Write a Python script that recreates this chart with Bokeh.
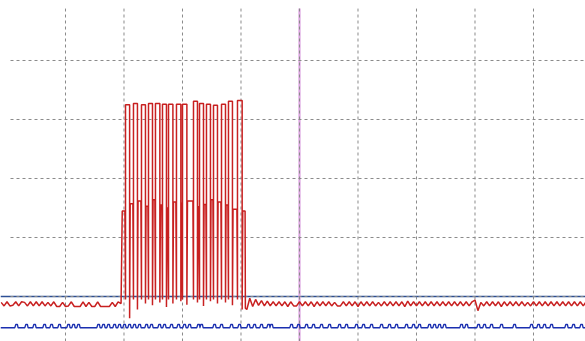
from bokeh.plotting import figure
from bokeh.embed import file_html
from bokeh.resources import INLINE

# ---------------- data (time in µs, 10 µs/div; level in V, 1 V/div) ----------------
view_t = [-1.11, 98.89]
view_v = [-0.763, 5.017]

grid_t = [10, 20, 30, 40, 50, 60, 70, 80, 90]
grid_v = [0, 1, 2, 3, 4]
grid_t_start = 0.6
grid_v_top = 4.88

cursor_t = 50
trigger_v = 0.0

# red channel: baseline samples before the burst
red_dt = 0.5
red_pre_t0 = -1.0
red_pre = [-0.10, -0.16, -0.09, -0.16, -0.15, -0.09, -0.16, -0.09, -0.10, -0.16,
           -0.09, -0.16, -0.09, -0.16, -0.09, -0.16, -0.10, -0.16, -0.09, -0.17,
           -0.17, -0.10, -0.17, -0.16, -0.09, -0.17, -0.17, -0.17, -0.09, -0.17,
           -0.10, -0.17, -0.17, -0.09, -0.17, -0.17, -0.17, -0.17, -0.10, -0.17,
           -0.09, -0.12]

# red channel: the burst
burst_begin = 19.6
burst_end = 40.7
burst_low = -0.05
pulse_t = [20.26, 21.62, 22.99, 24.19, 25.38, 26.58, 27.61, 28.97, 30.00, 31.88,
           32.91, 34.10, 35.30, 36.67, 37.86, 39.40]
pulse_w = [0.70, 0.68, 0.68, 0.68, 0.75, 0.68, 0.75, 0.75, 0.75, 0.68,
           0.68, 0.68, 0.68, 0.68, 0.68, 0.80]
pulse_top = [3.25, 3.27, 3.25, 3.27, 3.27, 3.26, 3.26, 3.26, 3.26, 3.31,
             3.27, 3.26, 3.24, 3.26, 3.31, 3.32]
pulse_dip = [-0.37, -0.22, -0.12, -0.15, -0.10, -0.18, -0.12, -0.08, -0.14, -0.10,
             -0.16, -0.08, -0.12, -0.10, -0.15, -0.22]
gap_mid = [1.45, 1.57, 1.62, 1.53, 1.64, 1.55, 1.50, 1.60, 1.58, 1.62,
           1.52, 1.56, 1.64, 1.60, 1.55, 1.48, 1.45]

# red channel: samples after the burst
red_post_t0 = 41.0
red_post = [-0.22, -0.03, -0.17, -0.05, -0.15, -0.07, -0.16, -0.08, -0.16, -0.09,
            -0.16, -0.09, -0.16, -0.09, -0.17, -0.09, -0.16, -0.16, -0.09, -0.16,
            -0.09, -0.16, -0.09, -0.17, -0.09, -0.16, -0.09, -0.16, -0.09, -0.16,
            -0.10, -0.16, -0.16, -0.09, -0.16, -0.09, -0.16, -0.09, -0.17, -0.09,
            -0.16, -0.09, -0.16, -0.09, -0.16, -0.10, -0.16, -0.09, -0.16, -0.09,
            -0.16, -0.09, -0.16, -0.09, -0.17, -0.08, -0.16, -0.09, -0.16, -0.09,
            -0.16, -0.09, -0.16, -0.09, -0.16, -0.09, -0.16, -0.09, -0.16, -0.09,
            -0.16, -0.09, -0.16, -0.09, -0.16, -0.09, -0.16, -0.09, -0.06, -0.24,
            -0.10, -0.16, -0.09, -0.16, -0.09, -0.16, -0.09, -0.17, -0.09, -0.16,
            -0.09, -0.16, -0.09, -0.16, -0.09, -0.16, -0.10, -0.16, -0.09, -0.16,
            -0.09, -0.16, -0.09, -0.16, -0.09, -0.16, -0.09, -0.16, -0.09, -0.16,
            -0.09, -0.16, -0.09, -0.16, -0.09, -0.16, -0.09]

# blue channel: baseline with small blips
blue_base = -0.53
blue_top = -0.475
blue_blip_w = 0.45
blue_blips = [1.45, 3.16, 4.53, 6.24, 7.44, 8.80, 10.34, 11.20, 12.05, 15.47,
              16.32, 17.18, 18.21, 19.06, 19.91, 20.77, 21.62, 22.48, 23.68, 24.53,
              25.90, 26.75, 27.95, 29.15, 30.17, 31.03, 32.56, 33.08, 35.30, 36.50,
              38.21, 39.57, 41.11, 42.14, 43.33, 44.53, 45.04, 48.46, 49.66, 51.03,
              52.22, 53.59, 54.96, 56.67, 57.86, 59.57, 60.77, 62.14, 63.85, 65.21,
              66.41, 68.12, 69.32, 70.34, 72.05, 72.91, 73.76, 74.62, 77.52, 78.38,
              80.43, 81.45, 82.65, 84.36, 86.58, 89.49, 90.68, 91.71, 92.91, 95.47,
              96.67, 98.03]

# ---------------- build traces ----------------
rx, ry = [], []
for i, v in enumerate(red_pre):
    rx.append(red_pre_t0 + i * red_dt)
    ry.append(v)
prev_end = burst_begin
for i in range(len(pulse_t)):
    ts = pulse_t[i]
    te = ts + pulse_w[i]
    rx += [prev_end + 0.1, ts - 0.1, ts, ts, te, te]
    ry += [gap_mid[i], gap_mid[i], burst_low, pulse_top[i], pulse_top[i], pulse_dip[i]]
    prev_end = te
rx += [prev_end + 0.1, burst_end, burst_end + 0.05]
ry += [gap_mid[-1], gap_mid[-1], -0.2]
for i, v in enumerate(red_post):
    rx.append(red_post_t0 + i * red_dt)
    ry.append(v)

bx, by = [view_t[0]], [blue_base]
for t in blue_blips:
    bx += [t - 0.12, t + 0.05, t + blue_blip_w - 0.12, t + blue_blip_w]
    by += [blue_base, blue_top, blue_top, blue_base]
bx.append(view_t[1])
by.append(blue_base)

# ---------------- figure ----------------
p = figure(width=585, height=341, x_range=(view_t[0], view_t[1]),
           y_range=(view_v[0], view_v[1]), output_backend="svg",
           toolbar_location=None, x_axis_location=None, y_axis_location=None,
           min_border=0, background_fill_color="white", border_fill_color="white")
p.outline_line_color = None
p.grid.visible = False

# trigger level and cursor
p.line(x=view_t, y=[trigger_v, trigger_v], line_color="#2d4f95", line_width=1.6)
p.line(x=[cursor_t, cursor_t], y=[view_v[0], grid_v_top], line_color="#dba3e0", line_width=2.2)

# dashed graticule
p.segment(x0=grid_t, y0=[view_v[0]] * len(grid_t), x1=grid_t, y1=[grid_v_top] * len(grid_t),
          line_color="#8a8a8a", line_width=1, line_dash="3 3")
p.segment(x0=[grid_t_start] * len(grid_v), y0=grid_v, x1=[view_t[1]] * len(grid_v), y1=grid_v,
          line_color="#8a8a8a", line_width=1, line_dash="3 3")

# signals
p.line(x=rx, y=ry, line_color="#c82020", line_width=1.5)
p.line(x=bx, y=by, line_color="#1a2fb0", line_width=1.3)

open("out.html", "w").write(file_html(p, INLINE))
